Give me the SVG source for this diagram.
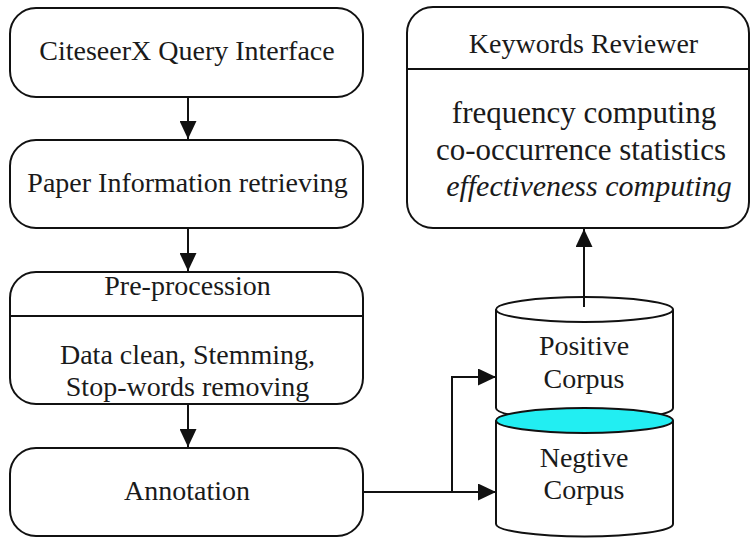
<svg xmlns="http://www.w3.org/2000/svg" width="750" height="538" viewBox="0 0 750 538">
  <style>
    .box { fill: #ffffff; stroke: #111111; stroke-width: 2; }
    .line { fill: none; stroke: #111111; stroke-width: 2; }
    .t { font-family: "Liberation Serif", "Times New Roman", serif; font-size: 28px; fill: #1a1a1a; text-anchor: middle; }
    .tb { font-family: "Liberation Serif", "Times New Roman", serif; font-size: 31px; fill: #1a1a1a; text-anchor: middle; }
    .it { font-style: italic; font-size: 30px; }
    .cyan { fill: #22eef2; stroke: #111111; stroke-width: 2; }
  </style>
  <defs>
    <marker id="arrow" markerUnits="userSpaceOnUse" markerWidth="18" markerHeight="17" refX="18" refY="8.5" orient="auto">
      <path d="M0,0 L18,8.5 L0,17 Z" fill="#111111"/>
    </marker>
  </defs>
  <rect width="750" height="538" fill="#ffffff"/>

  <g id="connectors">
    <path class="line" d="M188,97 L188,139" marker-end="url(#arrow)"/>
    <path class="line" d="M188,228 L188,271" marker-end="url(#arrow)"/>
    <path class="line" d="M188,404 L188,447" marker-end="url(#arrow)"/>
    <path class="line" d="M363,492 L496,492" marker-end="url(#arrow)"/>
    <path class="line" d="M452,492 L452,377 L496,377" marker-end="url(#arrow)"/>
    <path class="line" d="M584,307 L584,229" marker-end="url(#arrow)"/>
  </g>

  <g id="citeseerx">
    <rect class="box" x="10" y="8" width="353" height="89" rx="26" ry="26"/>
    <text class="t" x="187" y="60">CiteseerX Query Interface</text>
  </g>

  <g id="paper-info">
    <rect class="box" x="10" y="140" width="353" height="88" rx="26" ry="26"/>
    <text class="t" x="187.5" y="192">Paper Information retrieving</text>
  </g>

  <g id="preprocession">
    <rect class="box" x="10" y="272" width="353" height="132" rx="26" ry="26"/>
    <line class="line" x1="10" y1="316" x2="363" y2="316"/>
    <text class="t" x="187.5" y="295">Pre-procession</text>
    <text class="t" x="187.5" y="364">Data clean, Stemming,</text>
    <text class="t" x="187.5" y="396">Stop-words removing</text>
  </g>

  <g id="annotation">
    <rect class="box" x="10" y="448" width="353" height="88" rx="26" ry="26"/>
    <text class="t" x="187" y="500">Annotation</text>
  </g>

  <g id="keywords-reviewer">
    <rect class="box" x="407" y="7" width="342" height="221" rx="26" ry="26"/>
    <line class="line" x1="407" y1="69" x2="749" y2="69"/>
    <text class="t" x="583.5" y="53">Keywords Reviewer</text>
    <text class="tb" x="584" y="123">frequency computing</text>
    <text class="tb" x="581" y="160">co-occurrence statistics</text>
    <text class="tb it" x="589" y="196">effectiveness computing</text>
  </g>

  <g id="positive-corpus">
    <path class="box" d="M496,309.5 L496,408 A88.5,12.5 0 0 0 673,408 L673,309.5"/>
    <ellipse class="box" cx="584.5" cy="309.5" rx="88.5" ry="12.5"/>
    <text class="t" x="584" y="355">Positive</text>
    <text class="t" x="584" y="388">Corpus</text>
  </g>

  <g id="negative-corpus">
    <path class="box" d="M496,420.5 L496,524 A88.5,12.5 0 0 0 673,524 L673,420.5"/>
    <ellipse class="cyan" cx="584.5" cy="420.5" rx="88.5" ry="12.5"/>
    <text class="t" x="584" y="467">Negtive</text>
    <text class="t" x="584" y="499">Corpus</text>
  </g>

  <line class="line" x1="584" y1="297" x2="584" y2="307"/>
</svg>
